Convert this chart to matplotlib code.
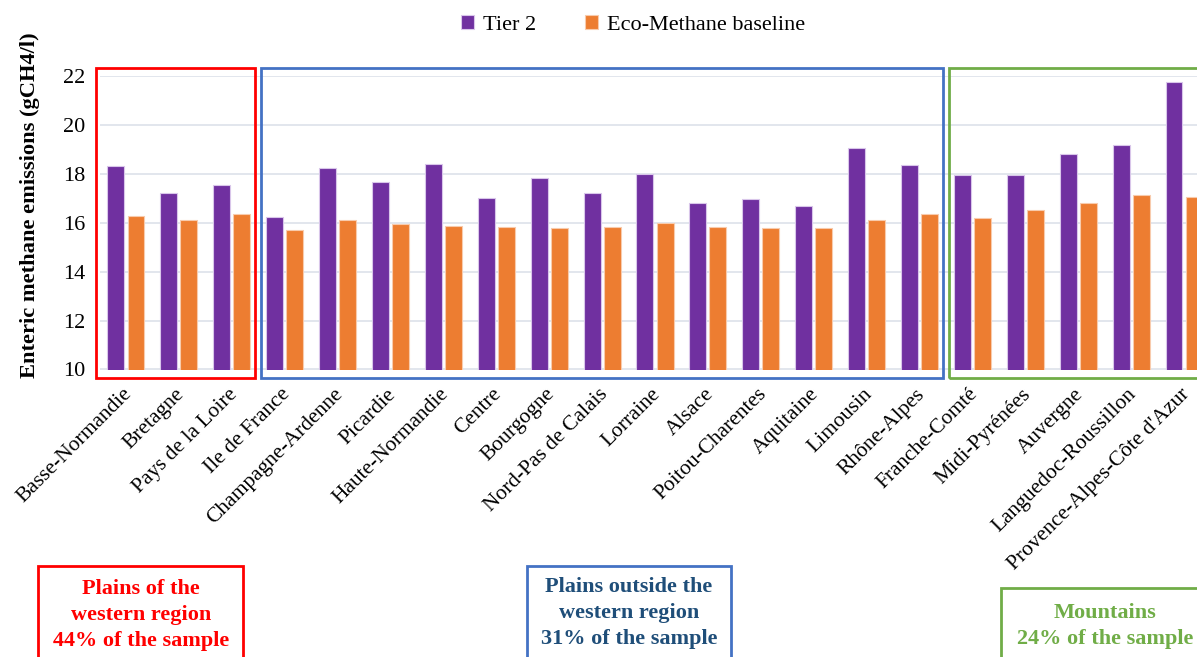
'''enteric methane emissions by region: Tier 2 vs Eco-Methane baseline'''
import numpy as np
import matplotlib.pyplot as plt
import matplotlib.transforms as mtransforms
from matplotlib.patches import Rectangle

plt.rcParams['font.family'] = ['Liberation Serif', 'DejaVu Serif']

# data
regions = ['Basse-Normandie', 'Bretagne', 'Pays de la Loire', 'Ile de France',
           'Champagne-Ardenne', 'Picardie', 'Haute-Normandie', 'Centre', 'Bourgogne',
           'Nord-Pas de Calais', 'Lorraine', 'Alsace', 'Poitou-Charentes', 'Aquitaine',
           'Limousin', 'Rhône-Alpes', 'Franche-Comté', 'Midi-Pyrénées', 'Auvergne',
           'Languedoc-Roussillon', "Provence-Alpes-Côte d'Azur"]
tier2 = [18.31, 17.21, 17.55, 16.23, 18.23, 17.66, 18.41, 17.03, 17.84, 17.21, 18.01,
         16.80, 16.98, 16.68, 19.06, 18.37, 17.97, 17.97, 18.83, 19.18, 21.77]
eco_baseline = [16.27, 16.11, 16.34, 15.71, 16.11, 15.95, 15.88, 15.84, 15.77, 15.84, 16.00,
                15.82, 15.77, 15.77, 16.11, 16.34, 16.18, 16.53, 16.82, 17.12, 17.05]
series_names = ['Tier 2', 'Eco-Methane baseline']
y_ticks = [10, 12, 14, 16, 18, 20, 22]

# zone groups: (first index, last index, colour, caption)
zones = [(0, 2, '#FF0000', 'Plains of the\nwestern region\n44% of the sample'),
         (3, 15, '#4472C4', 'Plains outside the\nwestern region\n31% of the sample'),
         (16, 20, '#70AD47', 'Mountains\n24% of the sample')]
caption_colors = ['#FF0000', '#1F4E79', '#70AD47']

W, H = 1197, 657
fig = plt.figure(figsize=(W / 100, H / 100), dpi=100)
# axes runs past the right edge like the original
ax = fig.add_axes([99.5 / W, (H - 369.5) / H, 1111 / W, 293.5 / H])

x = np.arange(len(regions))
ax.bar(x - 0.19, tier2, width=0.32, color='#7030A0', edgecolor='#D9C6EA',
       linewidth=0.8, label=series_names[0], zorder=3)
ax.bar(x + 0.19, eco_baseline, width=0.32, color='#ED7D31', edgecolor='#F8CBAD',
       linewidth=0.8, label=series_names[1], zorder=3)

ax.set_xlim(-0.5, len(regions) - 0.5)
ax.set_ylim(10, 22)
ax.set_yticks(y_ticks)
ax.yaxis.grid(True, color='#DDE2EA', linewidth=1.2, zorder=0)
ax.tick_params(axis='y', length=0, pad=10, labelsize=16)
ax.tick_params(axis='x', length=0, pad=11)
ax.set_xticks(x)
ax.set_xticklabels(regions, rotation=45, ha='right', rotation_mode='anchor', fontsize=15.5)
# nudge category labels a little to the left
shift = mtransforms.ScaledTranslation(-4 / 100, 0, fig.dpi_scale_trans)
for lab in ax.get_xticklabels():
    lab.set_transform(lab.get_transform() + shift)
for s in ax.spines.values():
    s.set_visible(False)

fig.text(30 / W, (H - 205) / H, 'Enteric methane emissions (gCH4/l)', rotation=90,
         ha='center', va='center', fontsize=16.2, fontweight='bold')

# zone frames round the bars
for (i0, i1, col, cap), tcol in zip(zones, caption_colors):
    left = i0 - 0.57 if i0 == 0 else i0 - 0.45
    right = i1 + 0.44 if i1 < len(regions) - 1 else i1 + 1.0
    ax.add_patch(Rectangle((left, 9.65), right - left, 22.33 - 9.65, fill=False,
                           edgecolor=col, linewidth=2, clip_on=False, zorder=4))

# caption boxes under the chart (figure pixels)
cap_boxes = [(38, 243, 566, 141, 615), (527, 731, 566, 629, 613), (1001, 1230, 588, 1105, 626)]
for (x0, x1, top, cx, cy), (i0, i1, col, cap), tcol in zip(cap_boxes, zones, caption_colors):
    fig.patches.append(Rectangle((x0 / W, -0.1), (x1 - x0) / W, (H - top) / H + 0.1,
                                 transform=fig.transFigure, fill=False,
                                 edgecolor=col, linewidth=2))
    fig.text(cx / W, (H - cy) / H, cap, ha='center', va='center', color=tcol,
             fontsize=16, fontweight='bold', linespacing=1.38)

fig.legend(loc='center', bbox_to_anchor=(633 / W, (H - 25) / H), ncol=2, frameon=False,
           fontsize=16, handlelength=0.6, handleheight=0.6, handletextpad=0.4,
           columnspacing=2.2)

plt.savefig('out.png', dpi=100)
